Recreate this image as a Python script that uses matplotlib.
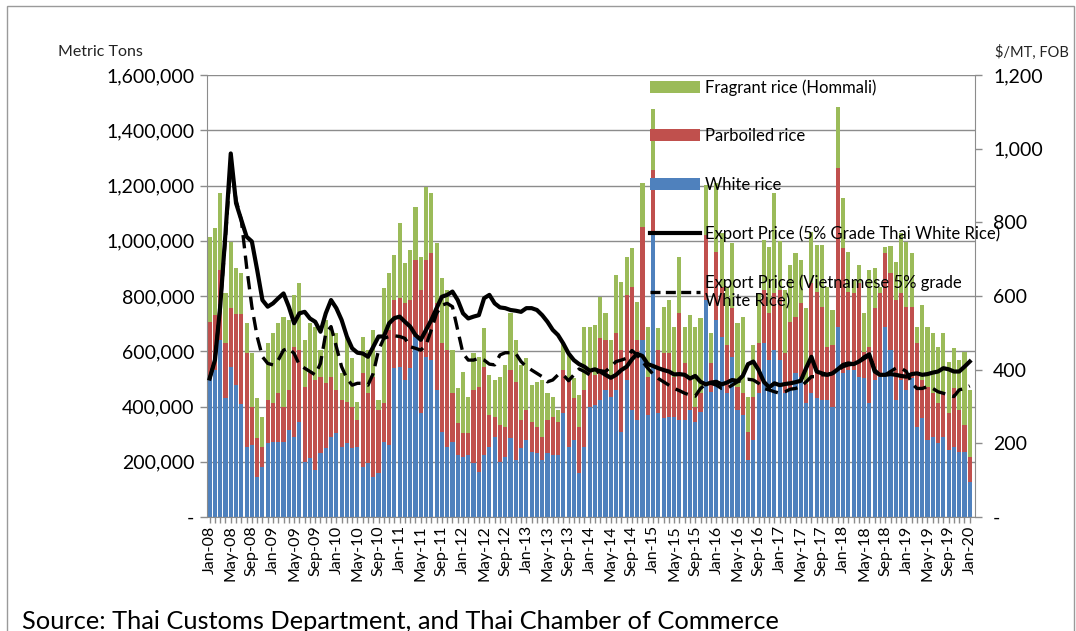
import matplotlib
matplotlib.use('Agg')
import matplotlib.pyplot as plt
import numpy as np
from matplotlib.patches import Rectangle, Patch
from matplotlib.lines import Line2D
from matplotlib.ticker import FuncFormatter, FixedLocator

plt.rcParams['font.family'] = ['Lato', 'DejaVu Sans']

# ---------------- data ----------------
month_names = ['Jan', 'Feb', 'Mar', 'Apr', 'May', 'Jun', 'Jul', 'Aug', 'Sep', 'Oct', 'Nov', 'Dec']
categories = [f"{month_names[m % 12]}-{8 + m // 12:02d}" for m in range(145)]  # Jan-08 .. Jan-20

# thousand metric tons
white = [508, 532, 641, 430, 544, 478, 409, 255, 261, 146, 182, 267,
         273, 273, 273, 315, 291, 345, 200, 212, 170, 230, 249, 291,
         303, 255, 267, 249, 255, 182, 194, 146, 158, 273, 261, 538,
         544, 496, 538, 653, 375, 580, 568, 460, 309, 255, 273, 224,
         218, 224, 194, 164, 224, 255, 291, 200, 218, 285, 206, 249,
         279, 236, 230, 206, 230, 224, 224, 375, 255, 279, 160, 255,
         399, 405, 424, 460, 436, 460, 309, 496, 387, 351, 641, 369,
         1027, 375, 357, 363, 363, 351, 351, 387, 345, 381, 785, 454,
         713, 653, 448, 580, 387, 369, 206, 279, 448, 629, 568, 604,
         568, 448, 466, 520, 508, 411, 448, 430, 424, 424, 399, 689,
         520, 532, 532, 508, 502, 411, 496, 508, 689, 604, 424, 496,
         460, 502, 327, 357, 279, 291, 267, 291, 243, 255, 236, 236,
         128]
parboiled = [199, 199, 253, 199, 211, 257, 326, 337, 138, 139, 73, 157,
             138, 175, 126, 145, 326, 260, 272, 308, 326, 278, 235, 217,
             157, 169, 151, 150, 96, 338, 254, 362, 229, 138, 416, 247,
             247, 277, 247, 277, 447, 350, 386, 313, 320, 349, 175, 115,
             85, 79, 266, 308, 320, 114, 72, 133, 109, 247, 284, 102,
             108, 109, 97, 85, 121, 139, 121, 157, 241, 151, 167, 205,
             127, 109, 223, 181, 72, 205, 295, 308, 447, 290, 410, 139,
             229, 229, 235, 229, 145, 386, 205, 109, 54, 67, 236, 102,
             247, 181, 175, 175, 83, 81, 103, 157, 181, 193, 169, 206,
             254, 144, 241, 205, 265, 69, 398, 386, 337, 193, 224, 573,
             453, 284, 278, 338, 96, 206, 259, 302, 265, 278, 361, 314,
             301, 259, 302, 139, 193, 157, 144, 157, 132, 211, 151, 97,
             90]
fragrant = [308, 314, 278, 181, 242, 165, 149, 109, 193, 145, 108, 205,
            254, 253, 326, 253, 187, 241, 169, 181, 193, 97, 229, 181,
            205, 96, 235, 175, 66, 133, 157, 169, 37, 417, 205, 163,
            272, 145, 181, 193, 120, 266, 218, 218, 235, 218, 156, 127,
            223, 133, 132, 108, 139, 145, 133, 175, 223, 205, 151, 199,
            187, 133, 163, 205, 97, 73, 42, 97, 96, 72, 113, 229,
            163, 181, 151, 96, 133, 211, 248, 138, 139, 138, 159, 181,
            220, 79, 169, 193, 181, 205, 133, 235, 290, 271, 181, 109,
            248, 193, 211, 236, 231, 275, 127, 187, 181, 181, 242, 362,
            178, 230, 205, 229, 157, 275, 187, 169, 224, 217, 126, 223,
            181, 144, 48, 66, 139, 277, 145, 24, 25, 99, 139, 217,
            236, 193, 60, 271, 217, 217, 206, 217, 187, 145, 181, 265,
            242]

# US$/MT FOB
thai_price = [376, 426, 571, 770, 987, 852, 806, 761, 748, 671, 589, 571,
              580, 594, 607, 571, 526, 553, 557, 539, 530, 503, 553, 589,
              567, 535, 490, 458, 446, 444, 435, 462, 490, 490, 526, 540,
              544, 530, 517, 494, 481, 508, 535, 567, 598, 603, 612, 589,
              553, 539, 544, 548, 594, 603, 580, 569, 567, 562, 560, 557,
              567, 567, 562, 548, 530, 508, 494, 471, 444, 426, 415, 408,
              397, 401, 395, 386, 378, 386, 399, 408, 428, 443, 437, 415,
              410, 404, 399, 395, 387, 388, 386, 376, 383, 367, 360, 365,
              367, 360, 365, 372, 369, 383, 415, 422, 399, 367, 352, 363,
              358, 361, 363, 366, 370, 404, 435, 395, 390, 386, 390, 401,
              413, 417, 415, 422, 431, 440, 395, 386, 386, 388, 386, 383,
              381, 388, 390, 386, 388, 392, 395, 404, 401, 395, 395, 408,
              422]
viet_price = [376, 426, 571, 760, 960, 861, 806, 680, 571, 490, 435, 417,
              413, 426, 453, 458, 444, 413, 404, 395, 386, 417, 499, 517,
              462, 408, 376, 358, 363, 363, 358, 390, 453, 485, 490, 492,
              490, 485, 462, 458, 453, 467, 508, 553, 575, 580, 571, 508,
              444, 426, 426, 431, 426, 415, 413, 440, 446, 446, 444, 422,
              408, 399, 390, 381, 367, 372, 386, 386, 370, 386, 402, 395,
              386, 390, 397, 395, 408, 422, 426, 431, 452, 440, 422, 404,
              388, 376, 367, 358, 349, 343, 336, 331, 328, 349, 361, 363,
              358, 349, 349, 358, 367, 372, 374, 372, 363, 349, 345, 340,
              336, 340, 347, 349, 354, 367, 381, 381, 386, 386, 390, 399,
              408, 413, 415, 422, 435, 443, 399, 386, 386, 395, 404, 404,
              395, 363, 349, 349, 354, 349, 340, 336, 331, 327, 345, 349,
              356]

series_labels = ['Fragrant rice (Hommali)', 'Parboiled rice', 'White rice',
                 'Export Price (5% Grade Thai White Rice)',
                 'Export Price (Vietnamese 5% grade\nWhite Rice)']

# ---------------- plot ----------------
C_WHITE, C_PARB, C_FRAG = '#4F81BD', '#C0504D', '#9BBB59'
GRID = '#8c8c8c'
W, H = 1076, 631

fig = plt.figure(figsize=(W / 100, H / 100), dpi=100)
ax = fig.add_axes([207 / W, 1 - 517 / H, 768 / W, 442 / H])

x = np.arange(len(categories))
w_arr = np.array(white) * 1000
p_arr = np.array(parboiled) * 1000
f_arr = np.array(fragrant) * 1000
bw = 0.78
ax.bar(x, w_arr, width=bw, color=C_WHITE, zorder=2)
ax.bar(x, p_arr, width=bw, bottom=w_arr, color=C_PARB, zorder=2)
ax.bar(x, f_arr, width=bw, bottom=w_arr + p_arr, color=C_FRAG, zorder=2)

ax.set_xlim(-0.5, 145)
ax.set_ylim(0, 1_600_000)
ax.set_yticks(np.arange(0, 1_600_001, 200_000))
ax.yaxis.set_major_formatter(FuncFormatter(lambda v, p: '-' if v == 0 else f'{v:,.0f}'))
ax.yaxis.grid(True, color=GRID, lw=1)
ax.set_axisbelow(True)

major = list(range(0, len(categories), 4))
ax.set_xticks(major)
ax.set_xticklabels([categories[i] for i in major], rotation=90)
ax.xaxis.set_minor_locator(FixedLocator(list(x)))
ax.tick_params(axis='x', which='both', length=4, color=GRID, width=1, labelsize=11.5, pad=2)
ax.tick_params(axis='y', length=5, color=GRID, width=1, labelsize=14, pad=4)

for s in ['top', 'right']:
    ax.spines[s].set_visible(False)
for s in ['left', 'bottom']:
    ax.spines[s].set_color(GRID)

ax2 = ax.twinx()
ax2.plot(x, thai_price, color='black', lw=3.0, zorder=3, solid_joinstyle='round')
ax2.plot(x, viet_price, color='black', lw=2.4, ls=(0, (4, 2.2)), zorder=3)
ax2.set_ylim(0, 1200)
ax2.set_yticks(np.arange(0, 1201, 200))
ax2.yaxis.set_major_formatter(FuncFormatter(lambda v, p: '-' if v == 0 else f'{v:,.0f}'))
ax2.tick_params(axis='y', length=5, color=GRID, width=1, labelsize=14, pad=8)
for s in ['top', 'left', 'bottom']:
    ax2.spines[s].set_visible(False)
ax2.spines['right'].set_color(GRID)

fig.text(58 / W, 1 - 52 / H, 'Metric Tons', fontsize=11.5, va='center', ha='left', color='#222222')
fig.text(995 / W, 1 - 52 / H, '$/MT, FOB', fontsize=10.5, va='center', ha='left', color='#222222')
fig.text(22 / W, 1 - 629 / H, 'Source: Thai Customs Department, and Thai Chamber of Commerce',
         fontsize=18.3, va='baseline', ha='left', color='black')

handles = [Patch(facecolor=C_FRAG), Patch(facecolor=C_PARB), Patch(facecolor=C_WHITE),
           Line2D([], [], color='black', lw=3.0),
           Line2D([], [], color='black', lw=2.4, ls=(0, (3, 1.6)))]
fig.legend(handles, series_labels, loc='upper left', bbox_to_anchor=(650 / W, 1 - 79 / H),
           frameon=False, fontsize=12, handlelength=3.0, handletextpad=0.3,
           labelspacing=1.95, borderpad=0, borderaxespad=0)

fig.add_artist(Rectangle((7 / W, -0.05), (1074 - 7) / W, 1.05 - 6 / H,
                         transform=fig.transFigure, fill=False, ec='#9a9a9a', lw=1))

fig.savefig('out.png', dpi=100)
